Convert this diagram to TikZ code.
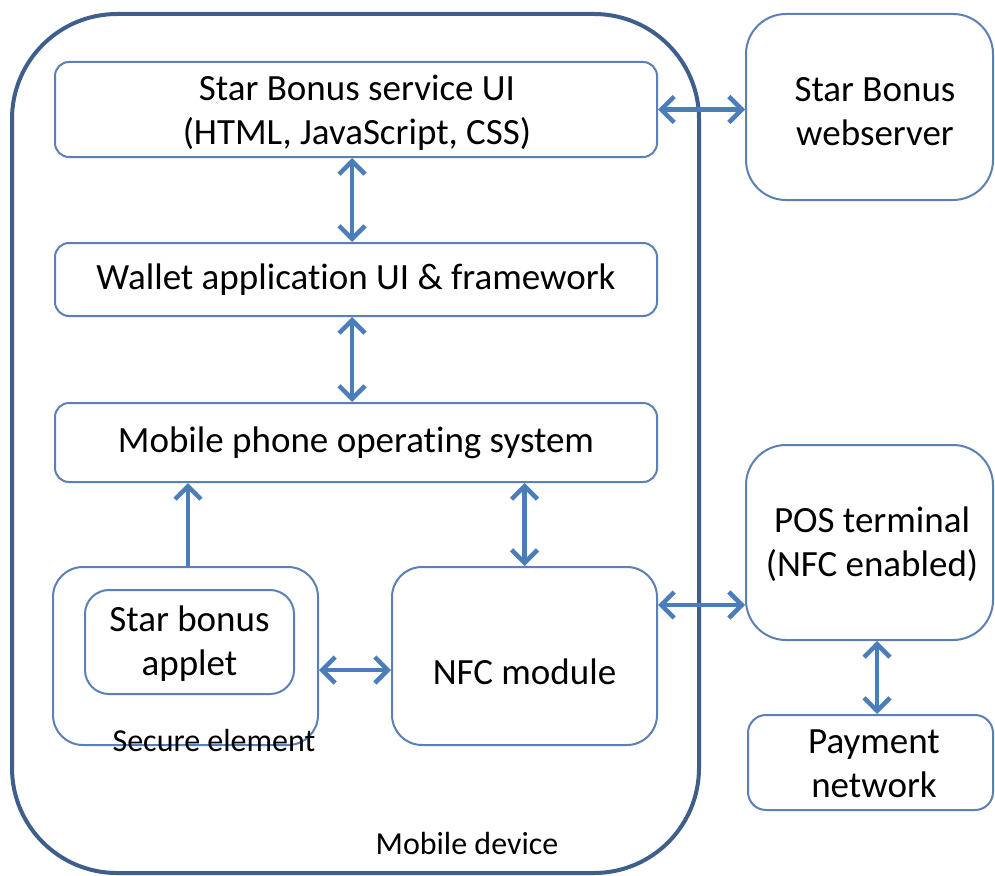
\documentclass[tikz,border=0pt]{standalone}
\usepackage{fontspec}
\setmainfont{Carlito}[Ligatures=NoCommon]
\usetikzlibrary{arrows.meta,calc}

\definecolor{boxline}{HTML}{5B80B6}
\definecolor{outerline}{HTML}{3E5F8C}
\definecolor{arrowcol}{HTML}{4A7DBA}

\tikzset{
  block/.style={draw=boxline, line width=2pt, rounded corners=#1, inner sep=0pt,
    align=center, font=\fontsize{37}{44}\selectfont, text=black},
  block/.default=14pt,
  label/.style={inner sep=0pt, align=center, font=\fontsize{37}{44}\selectfont, text=black},
  link/.style={draw=arrowcol, line width=4.5pt,
    {Straight Barb[length=13pt,width=26pt]}-{Straight Barb[length=13pt,width=26pt]}},
  onelink/.style={draw=arrowcol, line width=4.5pt, -{Straight Barb[length=13pt,width=26pt]}},
  caption/.style={inner sep=0pt, font=\fontsize{32}{38}\selectfont, text=black},
}

\begin{document}
\begin{tikzpicture}[x=1pt,y=-1pt]
  \useasboundingbox (0,0) rectangle (995,875);
  \fill[white] (0,0) rectangle (995,875);

  % mobile device enclosure
  \node[draw=outerline, line width=4pt, rounded corners=105pt, inner sep=0pt,
        minimum width=687pt, minimum height=859pt] (device) at (355.5,443.5) {};
  \node[caption] (devicelabel) at (467,843) {Mobile device};

  % layers inside the device
  \node[block, minimum width=602pt, minimum height=95pt] (sbui) at (356,109.5) {};
  \node[label] (sbuitext) at (357,113) {Star Bonus service UI\\(HTML, JavaScript, CSS)};
  \node[block, minimum width=602pt, minimum height=73pt] (wallet) at (356,279.5)
    {Wallet application UI \& framework};
  \node[block, minimum width=602pt, minimum height=79pt] (os) at (356,442.5)
    {Mobile phone operating system};

  % secure element with the applet inside
  \node[block=30pt, minimum width=265pt, minimum height=178pt] (se) at (185.5,656) {};
  \node[caption, anchor=base] (selabel) at (214,751) {Secure element};
  \node[block=24pt, minimum width=209pt, minimum height=104pt] (applet) at (189.5,642) {};
  \node[label] (applettext) at (189.5,644) {Star bonus\\applet};

  \node[block=30pt, minimum width=265pt, minimum height=178pt] (nfc) at (524.5,656) {};
  \node[label] (nfclabel) at (524.5,672) {NFC module};

  % external parties
  \node[block=40pt, minimum width=247pt, minimum height=186pt] (web) at (869.5,107) {};
  \node[label] (webtext) at (875,112) {Star Bonus\\webserver};
  \node[block=40pt, minimum width=247pt, minimum height=195pt] (pos) at (869.5,542.5) {};
  \node[label] (postext) at (872,544) {POS terminal\\(NFC enabled)};
  \node[block=18pt, minimum width=245pt, minimum height=95pt] (pay) at (870.5,762.5) {};
  \node[label] (paytext) at (874,764) {Payment\\network};

  % attachment points of the connectors
  \coordinate (uiA) at ($(sbui.south)+(-4,0)$);
  \coordinate (uiB) at ($(wallet.north)+(-4,0)$);
  \coordinate (wA) at ($(wallet.south)+(-4,0)$);
  \coordinate (wB) at ($(os.north)+(-4,0)$);
  \coordinate (seTop) at ($(se.north)+(2.5,0)$);
  \coordinate (seSide) at ($(se.east)+(0,14)$);
  \coordinate (nfcSide) at ($(nfc.east)+(0,-51)$);
  \coordinate (posBottom) at ($(pos.south)+(7.5,0)$);

  % connections
  \draw[link] (sbui.east) -- (sbui.east -| web.west);
  \draw[link] (uiA) -- (uiB);
  \draw[link] (wA) -- (wB);
  \draw[onelink] (seTop) -- (seTop |- os.south);
  \draw[link] (nfc.north) -- (nfc.north |- os.south);
  \draw[link] (seSide) -- (seSide -| nfc.west);
  \draw[link] (nfcSide) -- (nfcSide -| pos.west);
  \draw[link] (posBottom) -- (posBottom |- pay.north);
\end{tikzpicture}
\end{document}
